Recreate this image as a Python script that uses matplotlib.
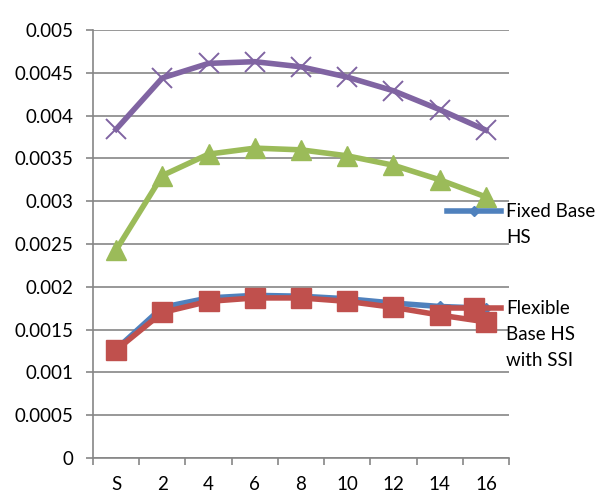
import numpy as np
import matplotlib
matplotlib.use("Agg")
import matplotlib.pyplot as plt
from matplotlib.lines import Line2D
from matplotlib.ticker import FuncFormatter

plt.rcParams['font.family'] = ['Lato', 'DejaVu Sans']

# data
categories = ['S', '2', '4', '6', '8', '10', '12', '14', '16']
fixed_base = [0.00127, 0.00176, 0.00187, 0.00190, 0.00189, 0.00186, 0.00181, 0.00177, 0.00175]
flexible_base = [0.00126, 0.00170, 0.00183, 0.00187, 0.00187, 0.00183, 0.00176, 0.00167, 0.00159]
series_green = [0.00243, 0.00330, 0.00355, 0.00362, 0.00360, 0.00353, 0.00342, 0.00325, 0.00305]
series_purple = [0.00384, 0.00444, 0.00461, 0.00463, 0.00457, 0.00445, 0.00429, 0.00407, 0.00383]
legend_labels = [['Fixed Base', 'HS'], ['Flexible', 'Base HS', 'with SSI']]
y_ticks = np.linspace(0, 0.005, 11)

BLUE = '#4F81BD'
RED = '#C0504D'
GREEN = '#9BBB59'
PURPLE = '#8064A2'
GRID = '#868686'
FS = 13.5

fig = plt.figure(figsize=(6.06, 4.94), dpi=100)
ax = fig.add_axes([93 / 606, 1 - 458 / 494, 416 / 606, 428 / 494])

x = np.arange(len(categories))
lw = 4
ax.plot(x, fixed_base, color=BLUE, lw=lw, marker='D', ms=5, zorder=3)
ax.plot(x, flexible_base, color=RED, lw=lw, marker='s', ms=14, zorder=4)
ax.plot(x, series_green, color=GREEN, lw=lw, marker='^', ms=15, zorder=5)
ax.plot(x, series_purple, color=PURPLE, lw=lw, marker='x', ms=14, mew=1.4, zorder=6)

ax.set_xlim(-0.5, len(categories) - 0.5)
ax.set_ylim(0, 0.005)
ax.set_yticks(y_ticks)
ax.yaxis.set_major_formatter(FuncFormatter(lambda v, p: '%g' % round(v, 6)))
ax.set_xticks(x)
ax.set_xticklabels(categories)
ax.set_xticks(np.arange(-0.5, len(categories)), minor=True)

ax.grid(axis='y', color=GRID, lw=1.2, zorder=1)
ax.set_axisbelow(True)
for s in ['top', 'right']:
    ax.spines[s].set_visible(False)
for s in ['left', 'bottom']:
    ax.spines[s].set_color(GRID)
    ax.spines[s].set_linewidth(1.2)

ax.tick_params(axis='y', length=5, width=1.2, color=GRID, pad=9, labelsize=FS)
ax.tick_params(axis='x', which='major', length=0, pad=13, labelsize=FS)
ax.tick_params(axis='x', which='minor', length=5, width=1.2, color=GRID)

# legend, handle aligned with the first line of each label
blank = Line2D([], [], color='none')
fixed_h = Line2D([], [], color=BLUE, lw=lw, marker='D', ms=5)
flex_h = Line2D([], [], color=RED, lw=lw, marker='s', ms=14)
leg_kw = dict(frameon=False, fontsize=FS, handlelength=2.9, handletextpad=0.25,
              borderpad=0, borderaxespad=0, labelspacing=0.48, loc='upper left')
leg1 = ax.legend([fixed_h] + [blank] * (len(legend_labels[0]) - 1), legend_labels[0],
                 bbox_to_anchor=(0.851, 0.595), **leg_kw)
ax.add_artist(leg1)
ax.legend([flex_h] + [blank] * (len(legend_labels[1]) - 1), legend_labels[1],
          bbox_to_anchor=(0.851, 0.368), **leg_kw)
for leg in ax.get_legend(), leg1:
    leg.set_clip_on(False)
    leg.set_zorder(7)

fig.savefig('out.png', dpi=100)
